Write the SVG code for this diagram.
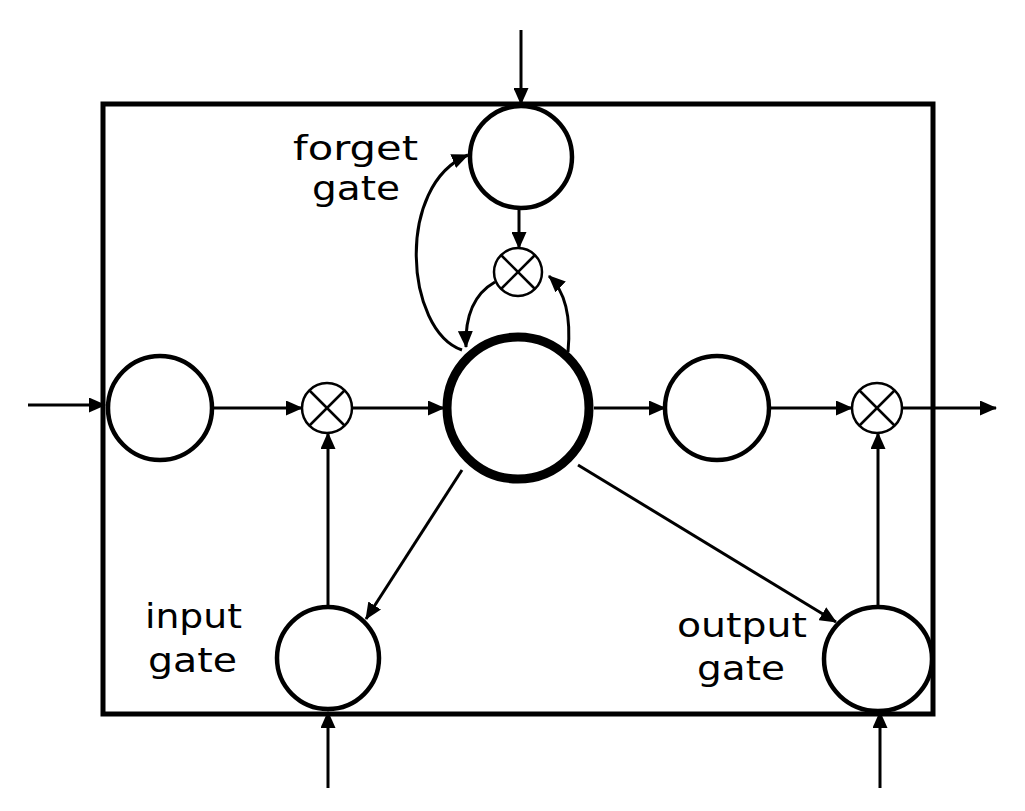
<svg xmlns="http://www.w3.org/2000/svg" width="1025" height="811" viewBox="0 0 1025 811">
<defs>
<marker id="ah" markerUnits="userSpaceOnUse" markerWidth="17" markerHeight="15" refX="16" refY="7.5" orient="auto">
<path d="M0,0 L17,7.5 L0,15 Z" fill="#000"/>
</marker>
<style>
.node{fill:#fff;stroke:#000;stroke-width:4.5}
.mul{fill:#fff;stroke:#000;stroke-width:2.5}
.x{stroke:#000;stroke-width:2.5}
.c{fill:none;stroke:#000;stroke-width:3;marker-end:url(#ah)}
.t{font-family:"DejaVu Sans",sans-serif;font-size:33px;fill:#000}
</style>
</defs>
<rect width="1025" height="811" fill="#fff"/>
<rect id="box" x="103" y="104" width="830" height="610" fill="none" stroke="#000" stroke-width="5"/>
<g id="connectors">
<line class="c" x1="521" y1="30" x2="521" y2="104"/>
<line class="c" x1="519" y1="208" x2="519" y2="248"/>
<line class="c" x1="28" y1="405" x2="105" y2="405"/>
<line class="c" x1="212" y1="408" x2="302" y2="408"/>
<line class="c" x1="352" y1="408" x2="444" y2="408"/>
<line class="c" x1="594" y1="408" x2="665" y2="408"/>
<line class="c" x1="769" y1="408" x2="852" y2="408"/>
<line class="c" x1="902" y1="408" x2="996" y2="408"/>
<line class="c" x1="328" y1="607" x2="328" y2="433"/>
<line class="c" x1="878" y1="606" x2="878" y2="433"/>
<line class="c" x1="328" y1="788" x2="328" y2="712"/>
<line class="c" x1="880" y1="788" x2="880" y2="712"/>
<line class="c" x1="462" y1="470" x2="366" y2="619"/>
<line class="c" x1="578" y1="465" x2="836" y2="622"/>
<path class="c" d="M462 350 C405 330 395 185 468 155"/>
<path class="c" d="M495 282 C472 295 465 320 466 347"/>
<path class="c" d="M568 352 C571 320 566 292 549 276"/>
</g>
<g id="forget-gate"><circle class="node" cx="521" cy="157" r="51"/></g>
<g id="forget-mul"><circle class="mul" cx="518" cy="272" r="24"/><line class="x" x1="501" y1="255" x2="535" y2="289"/><line class="x" x1="535" y1="255" x2="501" y2="289"/></g>
<g id="input"><circle class="node" cx="160" cy="408" r="52"/></g>
<g id="input-mul"><circle class="mul" cx="327" cy="408" r="25"/><line class="x" x1="309" y1="390" x2="345" y2="426"/><line class="x" x1="345" y1="390" x2="309" y2="426"/></g>
<g id="cell"><circle cx="518" cy="408" r="71" fill="#fff" stroke="#000" stroke-width="9"/></g>
<g id="output"><circle class="node" cx="717" cy="408" r="52"/></g>
<g id="output-mul"><circle class="mul" cx="877" cy="408" r="25"/><line class="x" x1="859" y1="390" x2="895" y2="426"/><line class="x" x1="895" y1="390" x2="859" y2="426"/></g>
<g id="input-gate"><circle class="node" cx="328" cy="658" r="51"/></g>
<g id="output-gate"><ellipse class="node" cx="878" cy="659" rx="54" ry="52"/></g>
<g id="labels">
<text class="t" x="293" y="160" textLength="125" lengthAdjust="spacingAndGlyphs">forget</text>
<text class="t" x="312" y="200" textLength="88" lengthAdjust="spacingAndGlyphs">gate</text>
<text class="t" x="145" y="628" textLength="97" lengthAdjust="spacingAndGlyphs">input</text>
<text class="t" x="148" y="672" textLength="89" lengthAdjust="spacingAndGlyphs">gate</text>
<text class="t" x="677" y="637" textLength="130" lengthAdjust="spacingAndGlyphs">output</text>
<text class="t" x="697" y="680" textLength="88" lengthAdjust="spacingAndGlyphs">gate</text>
</g>
</svg>
